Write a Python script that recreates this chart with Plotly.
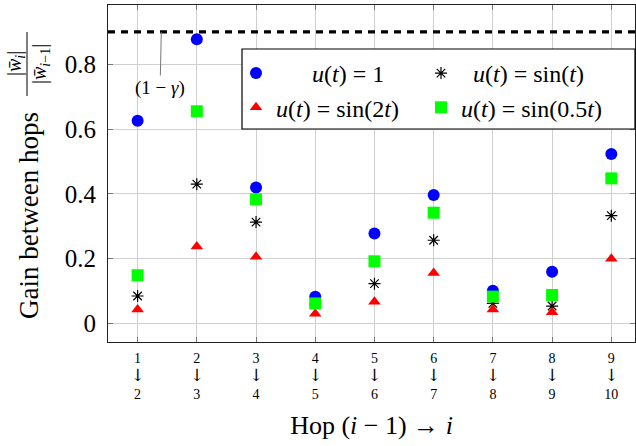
import plotly.graph_objects as go

# ---------------- data ----------------
hops = [1, 2, 3, 4, 5, 6, 7, 8, 9]
u_const = [0.626, 0.877, 0.420, 0.083, 0.278, 0.397, 0.101, 0.160, 0.523]
u_sin_t = [0.085, 0.430, 0.313, 0.060, 0.123, 0.257, 0.062, 0.054, 0.333]
u_sin_2t = [0.043, 0.238, 0.206, 0.030, 0.067, 0.156, 0.043, 0.035, 0.200]
u_sin_half = [0.149, 0.655, 0.383, 0.062, 0.192, 0.342, 0.083, 0.088, 0.448]
gamma_level = 0.9
y_ticks = [0, 0.2, 0.4, 0.6, 0.8]
y_tick_text = ["0", "0.2", "0.4", "0.6", "0.8"]

FONT = "Liberation Serif, Times New Roman, serif"
ARROW = '<span style="font-family:DejaVu Serif;font-size:17px">↓</span>'
hop_labels = [f"{i}<br>{ARROW}<br>{i+1}" for i in hops]

fig = go.Figure()
fig.add_trace(go.Scatter(x=hops, y=u_const, mode="markers",
                         name="\u2003\u2002<i>u</i>(<i>t</i>) = 1",
                         marker=dict(symbol="circle", size=12, color="#0000ff")))
fig.add_trace(go.Scatter(x=hops, y=u_sin_t, mode="markers",
                         name="\u2002<i>u</i>(<i>t</i>) = sin(<i>t</i>)",
                         marker=dict(symbol="asterisk-open", size=10, color="black",
                                     line=dict(color="black", width=1.2))))
fig.add_trace(go.Scatter(x=hops, y=u_sin_2t, mode="markers",
                         name="<i>u</i>(<i>t</i>) = sin(2<i>t</i>)",
                         marker=dict(symbol="triangle-up", size=11, color="#ff0000")))
fig.add_trace(go.Scatter(x=hops, y=u_sin_half, mode="markers",
                         name="<i>u</i>(<i>t</i>) = sin(0.5<i>t</i>)",
                         marker=dict(symbol="square", size=12, color="#00ff00")))

# plot-area pixel geometry helpers (for styling positions only)
L, R, T, B = 108, 635, 5, 342
W, H = 636, 446
def px(xp):
    return (xp - L) / (R - L)
def py(yp):
    return (B - yp) / (B - T)

shapes = [
    dict(type="line", xref="paper", yref="y", x0=0, x1=1, y0=gamma_level, y1=gamma_level,
         line=dict(color="black", width=3.2, dash="7px,6px"), layer="above"),
    # legend box
    dict(type="rect", xref="paper", yref="paper", x0=px(242), x1=1.0, y0=py(129), y1=py(49),
         fillcolor="white", line=dict(color="black", width=1.2), layer="above"),
    # fraction bar for y title
    dict(type="line", xref="paper", yref="paper", x0=px(27), x1=px(27), y0=py(96), y1=py(32),
         line=dict(color="black", width=1)),
]

annotations = [
    dict(x=1.40, y=gamma_level, ax=1.38, ay=0.727, axref="x", ayref="y", xref="x", yref="y",
         text="(1 − <i>γ</i>)", showarrow=True, arrowhead=0, arrowwidth=1, arrowcolor="#777777",
         font=dict(family=FONT, size=19, color="black")),
    dict(x=px(29), y=py(216), xref="paper", yref="paper", text="Gain between hops",
         textangle=-90, showarrow=False, xanchor="center", yanchor="middle",
         font=dict(family=FONT, size=27, color="black")),
    dict(x=px(15), y=py(64), xref="paper", yref="paper",
         text="|<i>w\u0304</i><sub><i>i</i></sub>|",
         textangle=-90, showarrow=False, xanchor="center", yanchor="middle",
         font=dict(family=FONT, size=20, color="black")),
    dict(x=px(40), y=py(64), xref="paper", yref="paper",
         text="|<i>w\u0304</i><sub><i>i</i>−1</sub>|",
         textangle=-90, showarrow=False, xanchor="center", yanchor="middle",
         font=dict(family=FONT, size=20, color="black")),
]

fig.update_layout(
    width=W, height=H,
    margin=dict(l=L, r=W - R, t=T, b=H - B, autoexpand=False),
    paper_bgcolor="white", plot_bgcolor="white",
    font=dict(family=FONT, color="black"),
    shapes=shapes, annotations=annotations,
    showlegend=True,
    legend=dict(orientation="h", x=px(236), y=py(51), xanchor="left", yanchor="top",
                bgcolor="rgba(0,0,0,0)", borderwidth=0,
                entrywidth=140, entrywidthmode="pixels",
                font=dict(family=FONT, size=24, color="black"),
                itemclick=False),
)

fig.update_xaxes(
    range=[0.5, 9.4], tickmode="array", tickvals=hops, ticktext=hop_labels,
    tickfont=dict(family=FONT, size=14, color="black"),
    showgrid=True, gridcolor="#cfcfcf", gridwidth=1, zeroline=False,
    showline=True, linecolor="#222222", linewidth=1, mirror="ticks",
    ticks="inside", ticklen=5, tickcolor="#777777", automargin=False,
    ticklabelstandoff=3,
    title=dict(text="Hop (<i>i</i> − 1) → <i>i</i>", font=dict(family=FONT, size=26, color="black"),
               standoff=14),
)
fig.update_yaxes(
    range=[-0.057, 0.983], tickmode="array", tickvals=y_ticks, ticktext=y_tick_text,
    tickfont=dict(family=FONT, size=25, color="black"),
    showgrid=True, gridcolor="#cfcfcf", gridwidth=1, zeroline=False,
    showline=True, linecolor="#222222", linewidth=1, mirror="ticks",
    ticks="inside", ticklen=5, tickcolor="#777777", automargin=False,
    ticklabelstandoff=6,
)

fig.write_html("out.html", config={"displayModeBar": False},
               post_script="document.body.style.margin='0';document.body.style.overflow='hidden';")
